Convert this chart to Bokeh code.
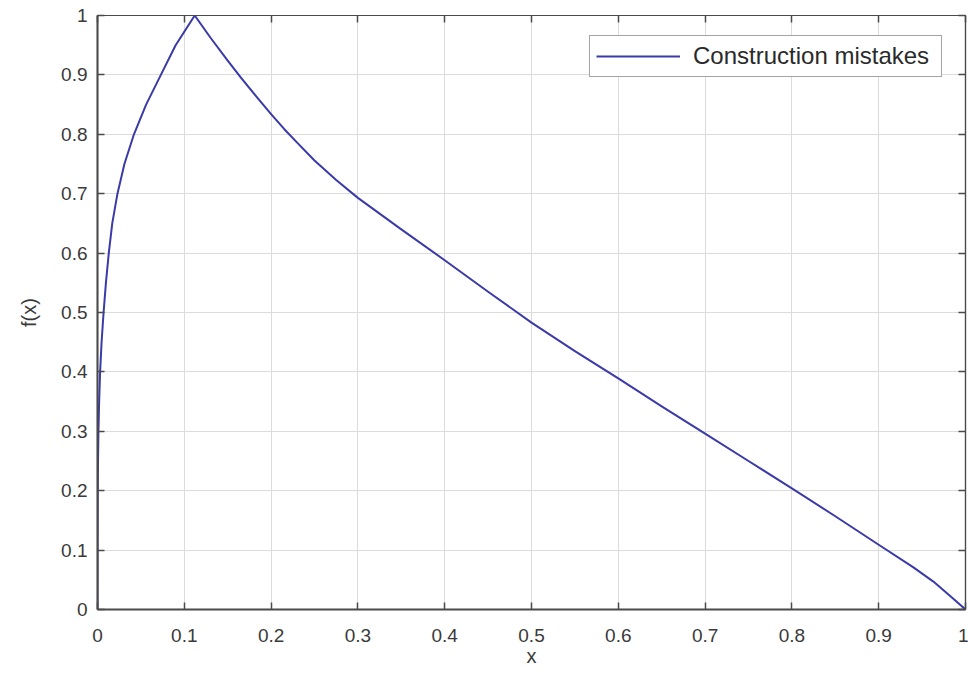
from bokeh.plotting import figure
from bokeh.models import (FixedTicker, CustomJSTickFormatter, LinearAxis, Legend,
                          LegendItem, Range1d)
from bokeh.embed import file_html
from bokeh.resources import INLINE

# ---- data ----
x_vals = [0.0, 0.00003, 0.0003, 0.0006, 0.0011, 0.0019, 0.003, 0.0047, 0.007,
          0.0097, 0.013, 0.017, 0.023, 0.031, 0.042, 0.056, 0.073, 0.09,
          0.112, 0.13, 0.15, 0.165, 0.185, 0.2, 0.215, 0.23, 0.25, 0.275,
          0.3, 0.35, 0.4, 0.45, 0.5, 0.55, 0.6, 0.65, 0.7, 0.75, 0.8, 0.85,
          0.9, 0.94, 0.963, 0.983, 1.0]
y_vals = [0.0, 0.1, 0.2, 0.25, 0.3, 0.35, 0.4, 0.45, 0.5,
          0.55, 0.6, 0.65, 0.7, 0.75, 0.8, 0.85, 0.9, 0.95,
          1.0, 0.963, 0.924, 0.896, 0.86, 0.834, 0.809, 0.786, 0.756, 0.723,
          0.693, 0.64, 0.588, 0.535, 0.483, 0.435, 0.389, 0.342, 0.296, 0.25, 0.204, 0.157,
          0.109, 0.071, 0.047, 0.022, 0.0]
series_name = "Construction mistakes"
ticks = [0.0, 0.1, 0.2, 0.3, 0.4, 0.5, 0.6, 0.7, 0.8, 0.9, 1.0]

FONT = "Liberation Sans"
TXT = "#3a3a3a"
AX = "#4a4a4a"

p = figure(width=968, height=680, output_backend="svg", toolbar_location=None,
           x_range=Range1d(0, 1), y_range=Range1d(0, 1),
           min_border_left=97, min_border_right=3, min_border_top=15, min_border_bottom=71,
           background_fill_color="white", border_fill_color="white",
           outline_line_color=AX, outline_line_width=1.2)

fmt = CustomJSTickFormatter(code="return String(Math.round(tick*10)/10);")
blank = CustomJSTickFormatter(code="return '';")

for ax in (p.xaxis[0], p.yaxis[0]):
    ax.ticker = FixedTicker(ticks=ticks)
    ax.formatter = fmt
    ax.major_tick_in = 7
    ax.major_tick_out = 0
    ax.minor_tick_in = 0
    ax.minor_tick_out = 0
    ax.axis_line_color = AX
    ax.axis_line_width = 2
    ax.major_tick_line_color = AX
    ax.major_tick_line_width = 1.5
    ax.major_label_text_font = FONT
    ax.major_label_text_font_size = "19px"
    ax.major_label_text_color = TXT
    ax.axis_label_text_font = FONT
    ax.axis_label_text_font_size = "20px"
    ax.axis_label_text_font_style = "normal"
    ax.axis_label_text_color = TXT

p.xaxis[0].axis_label = "x"
p.xaxis[0].major_label_standoff = 19
p.xaxis[0].axis_label_standoff = 0
p.yaxis[0].axis_label = "f(x)"
p.yaxis[0].major_label_standoff = 10
p.yaxis[0].axis_label_standoff = 18

# box ticks on top and right (MATLAB style)
for loc in ("right", "above"):
    a = LinearAxis(ticker=FixedTicker(ticks=ticks), formatter=blank,
                   major_tick_in=7, major_tick_out=0, minor_tick_in=0, minor_tick_out=0,
                   axis_line_color=AX, axis_line_width=1.2,
                   major_tick_line_color=AX, major_tick_line_width=1.5,
                   major_label_standoff=0)
    p.add_layout(a, loc)

p.xgrid.ticker = FixedTicker(ticks=ticks)
p.ygrid.ticker = FixedTicker(ticks=ticks)
p.xgrid.grid_line_color = "#dcdcdc"
p.ygrid.grid_line_color = "#dcdcdc"
p.xgrid.grid_line_width = 1
p.ygrid.grid_line_width = 1

r = p.line(x_vals, y_vals, line_color="#3a3aa8", line_width=2, line_join="round")

legend = Legend(items=[LegendItem(label=series_name, renderers=[r])],
                location=(492, 532),
                label_text_font=FONT, label_text_font_size="24px", label_text_color="#2a2a2a",
                glyph_width=84, glyph_height=20, label_standoff=13, label_width=242,
                padding=6, margin=0, spacing=0,
                border_line_color=AX, border_line_width=1.5,
                background_fill_color="white", background_fill_alpha=1)
p.add_layout(legend, "center")

open("out.html", "w").write(file_html(p, INLINE))
